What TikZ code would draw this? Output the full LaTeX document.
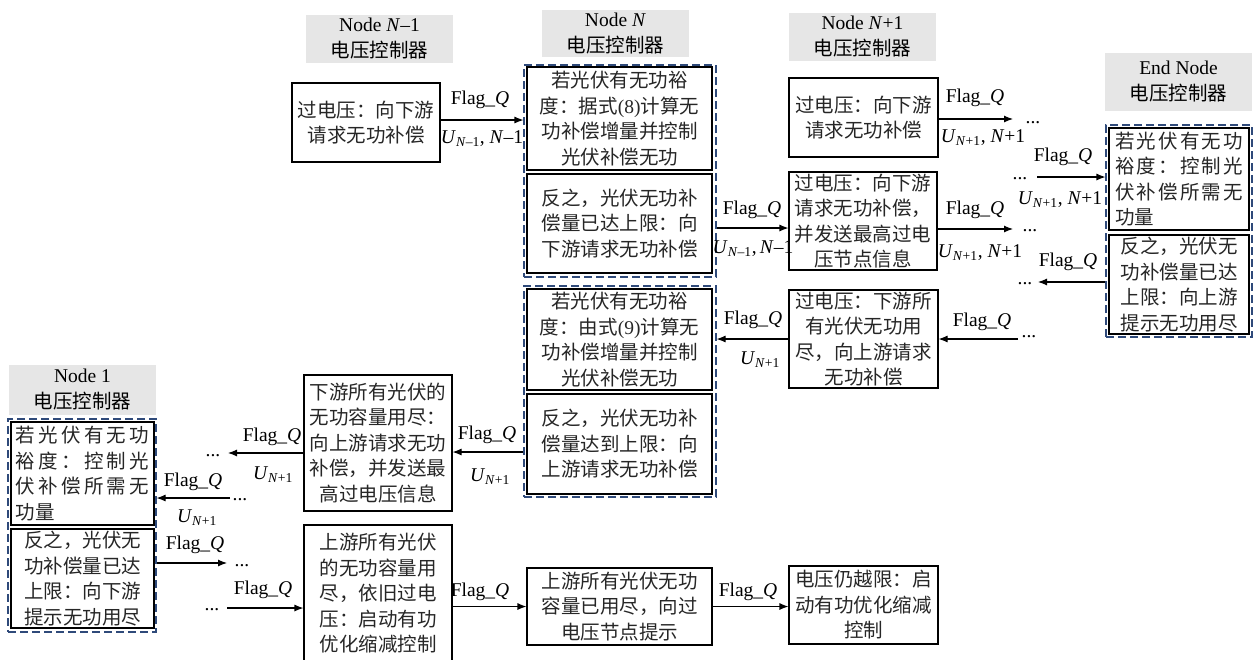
\documentclass[tikz,border=0pt]{standalone}
\usepackage{fontspec}
\setmainfont{Liberation Serif}
\newfontfamily\cjk{Noto Sans CJK SC}
\usetikzlibrary{arrows.meta}
\definecolor{dashblue}{HTML}{2F4A7A}
\definecolor{hdrgray}{HTML}{E6E6E6}
\newcommand\Ux[1]{\textit{U}\textsubscript{#1}}
\newcommand\FQ{Flag\_\textit{Q}}
\newcommand\spr[2]{\makebox[#1][s]{#2}}
\begin{document}
\begin{tikzpicture}[x=1pt,y=-1pt,
  box/.style={draw, line width=1.1pt, inner sep=0pt, align=center, text=black!85, font=\fontsize{19.5}{25.5}\selectfont\cjk},
  hdr/.style={fill=hdrgray, inner sep=0pt, align=center, font=\fontsize{19.5}{26}\selectfont},
  grp/.style={draw=dashblue, dash pattern=on 8pt off 4pt, line width=1.1pt, inner sep=0pt},
  lbl/.style={inner sep=0pt, font=\fontsize{19.5}{24}\selectfont},
  dotsn/.style={inner sep=0pt, font=\fontsize{19.5}{24}\selectfont},
  arr/.style={-{Latex[length=9pt,width=7pt]}, line width=1.1pt}]
\useasboundingbox (0,0) rectangle (1255,659);

% headers
\node[hdr, minimum width=147pt, minimum height=48pt] (hNm) at (379.5,39) {Node \textit{N}–1\\{\cjk 电压控制器}};
\node[hdr, minimum width=147pt, minimum height=47pt] (hN) at (615.5,33.5) {Node \textit{N}\\{\cjk 电压控制器}};
\node[hdr, minimum width=147pt, minimum height=48pt] (hN1) at (862.5,37) {Node \textit{N}+1\\{\cjk 电压控制器}};
\node[hdr, minimum width=147pt, minimum height=58pt] (hE) at (1178.5,82) {End Node\\{\cjk 电压控制器}};
\node[hdr, minimum width=147pt, minimum height=50pt] (h1) at (82.5,390) {Node 1\\{\cjk 电压控制器}};

% dashed groups
\node[grp, minimum width=192pt, minimum height=212pt] (gN1) at (620,171) {};
\node[grp, minimum width=192pt, minimum height=211pt] (gN2) at (620,391.5) {};
\node[grp, minimum width=146pt, minimum height=212pt] (gE) at (1179,231) {};
\node[grp, minimum width=148pt, minimum height=213pt] (gL) at (82,525.5) {};

% boxes
\node[box, minimum width=148pt, minimum height=79pt] (A) at (366,122.5) {过电压：向下游\\请求无功补偿};
\node[box, minimum width=185pt, minimum height=103pt] (N1) at (619.5,118.5) {若光伏有无功裕\\度：据式{\rmfamily(8)}计算无\\功补偿增量并控制\\光伏补偿无功};
\node[box, minimum width=185pt, minimum height=99pt] (N2) at (619.5,223.5) {反之，光伏无功补\\偿量已达上限：向\\下游请求无功补偿};
\node[box, minimum width=149pt, minimum height=79pt] (B) at (863.5,117.5) {过电压：向下游\\请求无功补偿};
\node[box, minimum width=148pt, minimum height=98pt] (C) at (863,221) {过电压：向下游\\请求无功补偿，\\并发送最高过电\\压节点信息};
\node[box, align=left, minimum width=140pt, minimum height=102pt] (E1) at (1179,179) {\spr{128pt}{若\hfil 光\hfil 伏\hfil 有\hfil 无\hfil 功}\\\spr{128pt}{裕\hfil 度\hfil ：\hfil 控\hfil 制\hfil 光}\\\spr{128pt}{伏\hfil 补\hfil 偿\hfil 所\hfil 需\hfil 无}\\功量};
\node[box, minimum width=140pt, minimum height=99pt] (E2) at (1179,284.5) {反之，光伏无\\功补偿量已达\\上限：向上游\\提示无功用尽};
\node[box, minimum width=149pt, minimum height=98pt] (D) at (863.5,339) {过电压：下游所\\有光伏无功用\\尽，向上游请求\\无功补偿};
\node[box, minimum width=185pt, minimum height=101pt] (N3) at (619.5,339.5) {若光伏有无功裕\\度：由式{\rmfamily(9)}计算无\\功补偿增量并控制\\光伏补偿无功};
\node[box, minimum width=185pt, minimum height=100pt] (N4) at (619.5,444) {反之，光伏无功补\\偿量达到上限：向\\上游请求无功补偿};
\node[box, minimum width=148pt, minimum height=136pt] (F) at (378,443) {下游所有光伏的\\无功容量用尽：\\向上游请求无功\\补偿，并发送最\\高过电压信息};
\node[box, minimum width=148pt, minimum height=137pt] (G) at (378,593.5) {上游所有光伏\\的无功容量用\\尽，依旧过电\\压：启动有功\\优化缩减控制};
\node[box, minimum width=185pt, minimum height=77pt] (H) at (619.5,606.5) {上游所有光伏无功\\容量已用尽，向过\\电压节点提示};
\node[box, minimum width=149pt, minimum height=78pt] (I) at (863.5,605) {电压仍越限：启\\动有功优化缩减\\控制};
\node[box, align=left, minimum width=143pt, minimum height=103pt] (L1) at (82.5,473.5) {\spr{133pt}{若\hfil 光\hfil 伏\hfil 有\hfil 无\hfil 功}\\\spr{133pt}{裕\hfil 度\hfil ：\hfil 控\hfil 制\hfil 光}\\\spr{133pt}{伏\hfil 补\hfil 偿\hfil 所\hfil 需\hfil 无}\\功量};
\node[box, align=left, minimum width=143pt, minimum height=99pt] (L2) at (82.5,578.5) {反之，光伏无\\功补偿量已达\\上限：向下游\\提示无功用尽};

% level coordinates
\coordinate (y1) at (0,120);
\coordinate (y2) at (0,228);
\coordinate (y3) at (0,119);
\coordinate (y4) at (0,229);
\coordinate (y5) at (0,177);
\coordinate (y6) at (0,282);
\coordinate (y7) at (0,339);
\coordinate (y9) at (0,452);
\coordinate (y10) at (0,453);
\coordinate (y11) at (0,498);
\coordinate (y12) at (0,563);
\coordinate (y13) at (0,608);
% free ends
\coordinate (t3) at (1013,119);
\coordinate (t4) at (1013,229);
\coordinate (s5) at (1037,177);
\coordinate (t6) at (1038,282);
\coordinate (s7) at (1018,339);
\coordinate (t10) at (228,453);
\coordinate (s11) at (230,498);
\coordinate (t12) at (227,563);
\coordinate (s13) at (227,608);

% dots
\node[dotsn] (d3) at (1033,123) {...};
\node[dotsn] (d4) at (1030,231) {...};
\node[dotsn] (d5) at (1020,179) {...};
\node[dotsn] (d6) at (1025,284) {...};
\node[dotsn] (d7) at (1029,337) {...};
\node[dotsn] (d10) at (213,456) {...};
\node[dotsn] (d11) at (240,500) {...};
\node[dotsn] (d12) at (242,566) {...};
\node[dotsn] (d13) at (212,610) {...};

% arrows
\draw[arr] (A.east |- y1) -- (gN1.west |- y1);
\draw[arr] (gN1.east |- y2) -- (C.west |- y2);
\draw[arr] (B.east |- y3) -- (t3);
\draw[arr] (C.east |- y4) -- (t4);
\draw[arr] (s5) -- (gE.west |- y5);
\draw[arr] (gE.west |- y6) -- (t6);
\draw[arr] (s7) -- (D.east |- y7);
\draw[arr] (D.west |- y7) -- (gN2.east |- y7);
\draw[arr] (gN2.west |- y9) -- (F.east |- y9);
\draw[arr] (F.west |- y10) -- (t10);
\draw[arr] (s11) -- (gL.east |- y11);
\draw[arr] (gL.east |- y12) -- (t12);
\draw[arr] (s13) -- (G.west |- y13);
\draw[arr] (G.east |- H.west) -- (H.west);
\draw[arr] (H.east |- H.west) -- (I.west |- H.west);

% labels
\node[lbl] (l1f) at (480,100) {\FQ};
\node[lbl] (l1u) at (482,139) {\Ux{\textit{N}–1}, \textit{N}–1};
\node[lbl] (l2f) at (752,210) {\FQ};
\node[lbl] (l2u) at (753,249) {\Ux{\textit{N}–1},\,\textit{N}–1};
\node[lbl] (l3f) at (975,98) {\FQ};
\node[lbl] (l3u) at (983,138) {\Ux{\textit{N}+1}, \textit{N}+1};
\node[lbl] (l4f) at (975,210) {\FQ};
\node[lbl] (l4u) at (980,253) {\Ux{\textit{N}+1}, \textit{N}+1};
\node[lbl] (l5f) at (1063,157) {\FQ};
\node[lbl] (l5u) at (1060,200) {\Ux{\textit{N}+1}, \textit{N}+1};
\node[lbl] (l6f) at (1068,262) {\FQ};
\node[lbl] (l7f) at (982,322) {\FQ};
\node[lbl] (l8f) at (753,320) {\FQ};
\node[lbl] (l8u) at (760,360) {\Ux{\textit{N}+1}};
\node[lbl] (l9f) at (487,435) {\FQ};
\node[lbl] (l9u) at (490,477) {\Ux{\textit{N}+1}};
\node[lbl] (l10f) at (272,437) {\FQ};
\node[lbl] (l10u) at (273,475) {\Ux{\textit{N}+1}};
\node[lbl] (l11f) at (193,482) {\FQ};
\node[lbl] (l11u) at (197,518) {\Ux{\textit{N}+1}};
\node[lbl] (l12f) at (195,545) {\FQ};
\node[lbl] (l13f) at (263,590) {\FQ};
\node[lbl] (l14f) at (480,592) {\FQ};
\node[lbl] (l15f) at (748,592) {\FQ};
\end{tikzpicture}
\end{document}
